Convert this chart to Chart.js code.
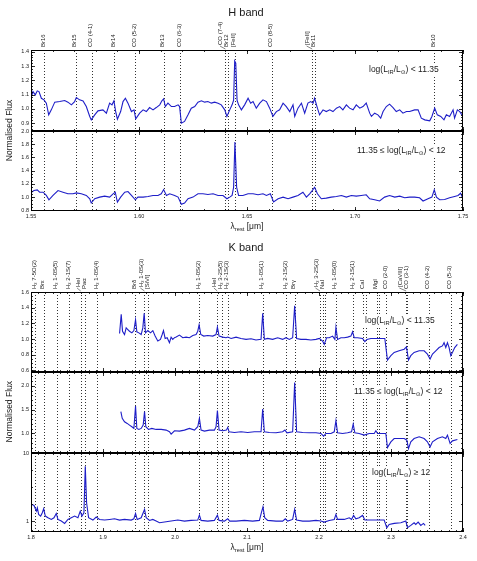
<!DOCTYPE html>
<html>
<head>
<meta charset="utf-8">
<script src="https://cdn.jsdelivr.net/npm/chart.js@4.4.0/dist/chart.umd.min.js"></script>
<style>
body{margin:0;background:#fff;}
#wrap{position:relative;width:477px;height:561px;}
canvas{position:absolute;left:0;top:0;}
</style>
</head>
<body>
<div id="wrap">
<canvas id="h1" width="477" height="561"></canvas>
<canvas id="h2" width="477" height="561"></canvas>
<canvas id="k1" width="477" height="561"></canvas>
<canvas id="k2" width="477" height="561"></canvas>
<canvas id="k3" width="477" height="561"></canvas>
</div>
<script>
// ---- line identifications (micron) ----
var hLineWave = [1.5562,1.5708,1.5781,1.5886,1.5983,1.6114,1.6191,1.6400,1.6412,1.6443,1.6614,1.6802,1.6813,1.7367];
var hLineName = ['Br16','Br15','CO (4-1)','Br14','CO (5-2)','Br13','CO (6-3)','CO (7-4)','Br12','[FeII]','CO (8-5)','[FeII]','Br11','Br10'];

var kLineWave = [1.8060,1.8174,1.8358,1.8528,1.8690,1.8751,1.8920,1.9446,1.9576,1.9630,2.0338,2.0587,2.0656,2.0735,2.1218,2.1542,2.1661,2.2014,2.2062,2.2090,2.2235,2.2477,2.2618,2.2650,2.2799,2.2831,2.2935,2.3211,2.3227,2.3525,2.3830];
var kLineName = ['H\u2082 7-5O(2)','Br\u03b5','H\u2082 1-0S(5)','H\u2082 2-1S(7)','HeI','Pa\u03b1','H\u2082 1-0S(4)','Br\u03b4','H\u2082 1-0S(3)','[SiVI]','H\u2082 1-0S(2)','HeI','H\u2082 3-2S(5)','H\u2082 2-1S(3)','H\u2082 1-0S(1)','H\u2082 2-1S(2)','Br\u03b3','H\u2082 3-2S(3)','NaI','','H\u2082 1-0S(0)','H\u2082 2-1S(1)','CaI','','MgI','','CO (2-0)','[CaVIII]','CO (3-1)','CO (4-2)','CO (5-3)'];

// ---- axis ticks ----
var hTicks = [1.55,1.60,1.65,1.70,1.75];
var hTickLabels = ['1.55','1.60','1.65','1.70','1.75'];
var kTicks = [1.8,1.9,2.0,2.1,2.2,2.3,2.4];
var kTickLabels = ['1.8','1.9','2.0','2.1','2.2','2.3','2.4'];

// ---- H band, log(LIR/Lsun) < 11.35 ----
var hLowWave = [1.5502,1.5509,1.5520,1.5529,1.5537,1.5548,1.5560,1.5571,1.5582,1.5594,
1.5610,1.5633,1.5656,1.5671,1.5687,1.5702,1.5710,1.5725,1.5741,1.5756,
1.5772,1.5779,1.5795,1.5810,1.5833,1.5849,1.5864,1.5875,1.5884,1.5892,
1.5900,1.5915,1.5926,1.5937,1.5949,1.5965,1.5977,1.5985,1.6003,1.6019,
1.6034,1.6049,1.6065,1.6080,1.6096,1.6106,1.6114,1.6122,1.6134,1.6150,
1.6165,1.6181,1.6188,1.6196,1.6211,1.6227,1.6242,1.6258,1.6273,1.6289,
1.6304,1.6319,1.6335,1.6350,1.6366,1.6381,1.6397,1.6407,1.6420,1.6431,
1.6438,1.6443,1.6448,1.6454,1.6461,1.6474,1.6489,1.6505,1.6517,1.6528,
1.6543,1.6559,1.6574,1.6590,1.6605,1.6620,1.6636,1.6651,1.6667,1.6682,
1.6698,1.6713,1.6721,1.6736,1.6752,1.6767,1.6782,1.6795,1.6806,1.6813,
1.6826,1.6836,1.6852,1.6867,1.6883,1.6898,1.6914,1.6929,1.6944,1.6960,
1.6975,1.6991,1.7006,1.7022,1.7037,1.7052,1.7068,1.7076,1.7091,1.7106,
1.7119,1.7130,1.7145,1.7160,1.7176,1.7191,1.7207,1.7222,1.7238,1.7253,
1.7276,1.7292,1.7307,1.7323,1.7346,1.7356,1.7369,1.7381,1.7397,1.7412,
1.7423,1.7438,1.7454,1.7461,1.7474,1.7485,1.7500];
var hLowFlux = [1.086,1.121,1.098,1.126,1.121,1.074,1.063,1.040,0.958,0.993,
1.047,1.051,1.058,1.047,1.028,1.051,1.079,1.063,1.056,1.016,
0.947,0.923,0.958,0.986,0.993,0.970,1.040,1.028,1.056,0.981,
0.928,0.981,1.051,1.074,1.040,0.981,0.993,0.930,0.970,0.993,
0.981,1.009,0.993,1.009,1.028,1.056,1.070,1.016,1.040,1.016,
1.016,1.028,1.016,0.900,0.912,0.958,1.005,1.016,1.047,1.056,
1.047,1.051,1.040,1.047,1.040,1.028,0.993,0.947,0.993,1.028,
1.060,1.335,1.320,1.060,1.028,0.993,1.028,1.074,1.040,1.051,
1.005,1.040,1.063,1.051,1.005,0.947,0.981,0.993,1.040,1.016,
0.981,1.028,0.947,1.005,1.040,0.970,1.040,1.051,1.040,1.074,
1.005,0.958,0.993,0.981,0.993,0.981,1.005,1.016,0.993,1.028,
1.005,0.993,1.028,1.005,1.016,1.040,0.970,0.947,0.970,0.958,
0.935,0.981,1.016,1.033,1.009,0.981,0.993,0.970,0.981,0.981,
0.993,0.993,0.935,0.923,0.916,0.947,1.005,0.958,0.947,0.923,
0.958,0.947,0.993,0.935,0.993,0.981,0.947];

// ---- H band, 11.35 <= log(LIR/Lsun) < 12 ----
var hMidWave = [1.5502,1.5514,1.5529,1.5540,1.5556,1.5571,1.5583,1.5602,1.5625,1.5648,
1.5671,1.5694,1.5710,1.5733,1.5756,1.5772,1.5779,1.5795,1.5818,1.5841,
1.5864,1.5880,1.5890,1.5900,1.5915,1.5934,1.5949,1.5965,1.5983,1.5995,
1.6019,1.6042,1.6065,1.6088,1.6103,1.6114,1.6127,1.6142,1.6165,1.6181,
1.6196,1.6211,1.6227,1.6250,1.6273,1.6296,1.6319,1.6343,1.6366,1.6389,
1.6407,1.6420,1.6431,1.6438,1.6444,1.6452,1.6461,1.6481,1.6505,1.6528,
1.6551,1.6574,1.6590,1.6608,1.6623,1.6644,1.6667,1.6690,1.6713,1.6736,
1.6759,1.6775,1.6790,1.6802,1.6813,1.6826,1.6844,1.6867,1.6890,1.6914,
1.6937,1.6960,1.6983,1.7006,1.7029,1.7052,1.7068,1.7091,1.7114,1.7137,
1.7160,1.7184,1.7207,1.7230,1.7253,1.7276,1.7299,1.7315,1.7338,1.7356,
1.7367,1.7377,1.7392,1.7415,1.7438,1.7461,1.7477,1.7489,1.7500];
var hMidFlux = [1.074,1.099,1.109,1.074,1.074,1.025,0.960,1.025,1.099,1.074,
1.050,1.050,1.064,1.050,1.025,0.975,0.911,0.975,1.000,1.015,
1.000,1.050,1.074,0.926,1.000,1.074,1.084,1.025,0.960,1.000,
1.000,1.010,1.025,1.025,1.050,1.114,1.025,1.050,1.025,1.000,
0.891,0.911,0.975,1.000,1.050,1.050,1.040,1.050,1.025,1.025,
0.975,1.000,1.025,1.149,1.832,1.149,1.025,1.025,1.050,1.050,
1.035,1.050,1.025,1.050,0.926,0.975,1.000,0.975,1.000,1.025,
1.074,1.000,1.050,1.099,1.149,1.050,0.975,0.985,1.000,1.010,
1.025,1.000,1.025,1.015,1.025,1.035,0.975,0.960,0.941,1.000,
1.025,1.000,1.015,0.990,1.000,1.000,0.990,0.941,0.975,1.000,
1.109,1.000,0.960,0.965,0.990,1.010,1.025,1.059,0.975];

// ---- K band, log(LIR/Lsun) < 11.35 ----
var kLowWave = [1.9230,1.9253,1.9271,1.9299,1.9322,1.9345,1.9368,1.9401,1.9429,1.9452,
1.9470,1.9498,1.9530,1.9553,1.9572,1.9590,1.9623,1.9660,1.9692,1.9724,
1.9761,1.9798,1.9822,1.9840,1.9863,1.9891,1.9923,1.9946,1.9969,1.9993,
2.0016,2.0062,2.0108,2.0154,2.0201,2.0247,2.0293,2.0316,2.0335,2.0358,
2.0399,2.0455,2.0524,2.0570,2.0589,2.0612,2.0663,2.0709,2.0732,2.0779,
2.0848,2.0917,2.0987,2.1056,2.1125,2.1195,2.1218,2.1241,2.1287,2.1356,
2.1426,2.1495,2.1541,2.1588,2.1634,2.1662,2.1689,2.1749,2.1819,2.1888,
2.1958,2.2004,2.2050,2.2073,2.2105,2.2142,2.2189,2.2221,2.2235,2.2258,
2.2304,2.2350,2.2397,2.2443,2.2466,2.2489,2.2535,2.2605,2.2637,2.2665,
2.2720,2.2790,2.2859,2.2914,2.2951,2.2998,2.3044,2.3113,2.3183,2.3215,
2.3243,2.3275,2.3321,2.3391,2.3460,2.3506,2.3543,2.3576,2.3622,2.3668,
2.3714,2.3737,2.3761,2.3784,2.3807,2.3830,2.3853,2.3885,2.3922];
var kLowFlux = [1.071,1.317,1.100,1.058,1.142,1.121,1.100,1.079,1.108,1.246,
1.092,1.079,1.058,1.142,1.329,1.079,1.108,1.079,1.108,1.038,
0.975,0.996,1.058,1.108,1.008,1.017,0.954,1.025,0.996,1.017,
1.025,1.050,1.017,1.025,1.017,1.046,1.058,1.100,1.183,1.058,
1.038,1.046,1.038,1.058,1.154,1.038,1.025,1.017,1.025,1.008,
1.025,1.008,0.996,1.004,0.988,0.996,1.329,0.996,1.008,0.996,
1.017,0.996,1.017,0.996,1.017,1.425,1.008,0.996,0.996,0.988,
0.996,1.008,0.975,0.933,1.017,1.017,1.038,0.996,1.150,0.996,
1.017,1.017,1.025,1.038,1.092,1.017,1.017,1.008,0.967,0.996,
1.008,1.008,1.008,1.008,0.733,0.788,0.829,0.850,0.871,0.900,
0.733,0.788,0.829,0.850,0.850,0.808,0.746,0.808,0.850,0.892,
0.913,0.954,0.892,0.954,0.892,0.788,0.829,0.892,0.933];

// ---- K band, 11.35 <= log(LIR/Lsun) < 12 ----
var kMidWave = [1.9248,1.9267,1.9299,1.9336,1.9368,1.9401,1.9429,1.9452,1.9470,1.9498,
1.9530,1.9558,1.9577,1.9595,1.9632,1.9678,1.9738,1.9808,1.9877,1.9923,
1.9946,1.9993,2.0062,2.0131,2.0201,2.0270,2.0316,2.0339,2.0362,2.0409,
2.0478,2.0547,2.0570,2.0589,2.0612,2.0663,2.0714,2.0732,2.0751,2.0825,
2.0917,2.1010,2.1102,2.1195,2.1218,2.1241,2.1310,2.1403,2.1495,2.1527,
2.1555,2.1634,2.1662,2.1689,2.1773,2.1865,2.1958,2.2027,2.2064,2.2096,
2.2166,2.2212,2.2235,2.2258,2.2327,2.2397,2.2452,2.2475,2.2498,2.2558,
2.2628,2.2697,2.2767,2.2790,2.2813,2.2882,2.2928,2.2951,2.2998,2.3044,
2.3113,2.3183,2.3220,2.3243,2.3275,2.3321,2.3391,2.3460,2.3506,2.3543,
2.3576,2.3645,2.3714,2.3761,2.3784,2.3821,2.3853,2.3922];
var kMidFlux = [1.458,1.317,1.246,1.211,1.176,1.141,1.106,1.577,1.106,1.085,
1.106,1.176,1.458,1.141,1.085,1.106,1.085,1.085,1.070,1.035,
0.986,1.056,1.049,1.070,1.106,1.070,1.141,1.317,1.070,1.049,
1.070,1.070,1.141,1.479,1.070,1.056,1.070,1.127,1.035,1.021,
1.035,1.021,1.035,1.035,1.514,1.035,1.021,1.014,1.035,1.070,
1.014,1.035,2.070,1.035,1.021,1.014,1.014,1.000,0.944,1.000,
1.000,1.035,1.268,1.014,1.000,1.014,1.035,1.197,1.014,1.000,
0.965,1.000,1.000,1.056,1.000,1.000,1.000,0.704,0.824,0.894,
0.894,0.894,0.859,0.683,0.824,0.894,0.930,0.894,0.824,0.718,
0.824,0.894,0.930,0.894,0.965,0.789,0.845,0.873];

// ---- K band, log(LIR/Lsun) >= 12 ----
var kHighWave = [1.8014,1.8042,1.8074,1.8088,1.8106,1.8134,1.8157,1.8176,1.8199,1.8236,
1.8282,1.8319,1.8351,1.8374,1.8421,1.8467,1.8513,1.8559,1.8606,1.8652,
1.8684,1.8707,1.8735,1.8754,1.8772,1.8800,1.8860,1.8906,1.8952,1.9022,
1.9091,1.9160,1.9230,1.9299,1.9392,1.9429,1.9452,1.9475,1.9530,1.9577,
1.9600,1.9646,1.9692,1.9738,1.9785,1.9854,1.9946,2.0039,2.0131,2.0224,
2.0316,2.0339,2.0362,2.0455,2.0547,2.0589,2.0612,2.0686,2.0732,2.0760,
2.0848,2.0963,2.1079,2.1172,2.1199,2.1222,2.1246,2.1287,2.1403,2.1495,
2.1532,2.1565,2.1634,2.1662,2.1689,2.1773,2.1865,2.1958,2.2027,2.2073,
2.2142,2.2212,2.2235,2.2258,2.2350,2.2420,2.2452,2.2480,2.2512,2.2558,
2.2605,2.2637,2.2720,2.2813,2.2905,2.2942,2.2974,2.3044,2.3136,2.3206,
2.3229,2.3275,2.3321,2.3344,2.3377,2.3414,2.3451,2.3474];
var kHighFlux = [1.769,1.710,1.414,1.581,1.264,1.196,1.337,1.529,1.196,1.131,
1.069,1.131,1.308,1.069,1.011,0.935,1.069,1.131,1.196,1.131,
1.414,1.196,1.337,6.390,1.870,1.131,1.046,1.157,1.069,1.046,
1.069,1.093,1.046,1.069,1.046,1.093,1.308,1.069,1.131,1.495,
1.131,1.034,1.069,1.011,0.956,0.978,1.011,1.046,1.011,1.034,
1.046,1.236,1.034,1.011,1.034,1.236,1.034,1.011,1.093,1.011,
1.011,1.034,1.011,1.034,1.337,1.635,1.131,1.034,1.011,1.011,
1.093,1.011,1.069,1.495,1.046,1.011,1.011,1.034,1.011,0.978,
1.034,1.069,1.264,1.069,1.069,1.131,1.069,1.223,1.093,1.131,
1.223,1.046,1.046,1.046,1.046,0.809,0.904,0.935,0.956,1.011,
0.809,0.874,0.956,0.904,0.978,0.874,0.935,0.874];

var FONT = '"Liberation Sans", Arial, Helvetica, "DejaVu Sans", sans-serif';
var INK = '#1a1a1a';

// draws text made of [string, isSubscript] parts; returns its width
function richText(ctx, parts, x, y, size, measureOnly){
  var cx = x;
  parts.forEach(function(p){
    var s = p[1] ? size*0.68 : size;
    ctx.font = s + 'px ' + FONT;
    if (!measureOnly) ctx.fillText(p[0], cx, y + (p[1] ? size*0.28 : 0));
    cx += ctx.measureText(p[0]).width;
  });
  return cx - x;
}

function steps(a, b, st){
  var out = [];
  var n = Math.round((b - a) / st);
  for (var i = 0; i <= n; i++) out.push(a + i*st);
  return out;
}

function decorPlugin(p){
  return {
    id: 'decor_' + p.id,
    beforeDatasetsDraw: function(chart){
      var ctx = chart.ctx, a = chart.chartArea, xs = chart.scales.x;
      ctx.save();
      ctx.strokeStyle = '#333';
      ctx.lineWidth = 1;
      ctx.setLineDash([1, 2]);
      p.lines.forEach(function(w){
        var x = Math.round(xs.getPixelForValue(w)) + 0.5;
        ctx.beginPath(); ctx.moveTo(x, a.top); ctx.lineTo(x, a.bottom); ctx.stroke();
      });
      ctx.setLineDash([]);
      // label box behind the annotation hides the dotted lines
      ctx.textBaseline = 'middle';
      var w = richText(ctx, p.note, 0, 0, 8.5, true);
      ctx.fillStyle = '#fff';
      ctx.fillRect(p.noteX - 2, p.noteY - 6, w + 4, 13);
      ctx.restore();
    },
    afterDraw: function(chart){
      var ctx = chart.ctx, a = chart.chartArea, xs = chart.scales.x, ys = chart.scales.y;
      ctx.save();
      ctx.strokeStyle = '#000';
      ctx.lineWidth = 1;
      ctx.strokeRect(a.left + 0.5, a.top + 0.5, a.right - a.left - 1, a.bottom - a.top - 1);

      // inward ticks on all sides
      function tx(v, len){
        var x = Math.round(xs.getPixelForValue(v)) + 0.5;
        ctx.beginPath();
        ctx.moveTo(x, a.bottom); ctx.lineTo(x, a.bottom - len);
        ctx.moveTo(x, a.top); ctx.lineTo(x, a.top + len);
        ctx.stroke();
      }
      function ty(v, len){
        var y = Math.round(ys.getPixelForValue(v)) + 0.5;
        ctx.beginPath();
        ctx.moveTo(a.left, y); ctx.lineTo(a.left + len, y);
        ctx.moveTo(a.right, y); ctx.lineTo(a.right - len, y);
        ctx.stroke();
      }
      ctx.lineWidth = 0.8;
      steps(xs.min, xs.max, p.xMinor).forEach(function(v){ tx(v, 2); });
      p.xTicks.forEach(function(v){ tx(v, 4); });
      p.yMinor.forEach(function(v){ if (v >= ys.min && v <= ys.max) ty(v, 2); });
      p.yTicks.forEach(function(v){ ty(v, 4); });

      ctx.fillStyle = INK;
      ctx.font = '5.5px ' + FONT;
      ctx.textAlign = 'right';
      ctx.textBaseline = 'middle';
      p.yTicks.forEach(function(v, i){
        ctx.fillText(p.yTickLabels[i], a.left - 2, ys.getPixelForValue(v));
      });

      if (p.xLabels){
        ctx.textAlign = 'center';
        ctx.textBaseline = 'top';
        p.xTicks.forEach(function(v, i){
          ctx.fillText(p.xTickLabels[i], xs.getPixelForValue(v), a.bottom + 3);
        });
        ctx.textAlign = 'left';
        ctx.textBaseline = 'middle';
        var parts = [['\u03bb', false], ['rest', true], [' [\u03bcm]', false]];
        var w = richText(ctx, parts, 0, 0, 8.5, true);
        richText(ctx, parts, (a.left + a.right)/2 - w/2, a.bottom + 16, 8.5);
      }

      // annotation
      ctx.textAlign = 'left';
      ctx.textBaseline = 'middle';
      richText(ctx, p.note, p.noteX, p.noteY, 8.5);

      if (p.names){
        // band title and y title
        ctx.textAlign = 'center';
        ctx.font = '11px ' + FONT;
        ctx.fillText(p.title, 246, a.top - p.titleGap);
        ctx.save();
        ctx.translate(10, p.yTitleY);
        ctx.rotate(-Math.PI/2);
        ctx.font = '8.5px ' + FONT;
        ctx.fillText('Normalised Flux', 0, 0);
        ctx.restore();

        // line labels above the top panel
        var lx = p.lines.map(function(w){ return xs.getPixelForValue(w); });
        var tx2 = lx.slice();
        var next = null;
        for (var i = lx.length - 1; i >= 0; i--){
          if (!p.names[i]) continue;
          if (next !== null && tx2[next] - tx2[i] < 6) tx2[i] = tx2[next] - 6;
          next = i;
        }
        ctx.font = '6px ' + FONT;
        ctx.textAlign = 'left';
        ctx.textBaseline = 'alphabetic';
        ctx.lineWidth = 0.6;
        ctx.strokeStyle = '#333';
        for (var j = 0; j < lx.length; j++){
          if (!p.names[j]) continue;
          var base = a.top - 3;
          if (lx[j] - tx2[j] > 1){
            ctx.beginPath();
            ctx.moveTo(lx[j], a.top - 1);
            ctx.lineTo(tx2[j] - 2, base - 1);
            ctx.stroke();
            base -= 2;
          }
          ctx.save();
          ctx.translate(tx2[j] + 0.5, base);
          ctx.rotate(-Math.PI/2);
          ctx.fillText(p.names[j], 0, 0);
          ctx.restore();
        }
      }
      ctx.restore();
    }
  };
}

var noteLow = [['log(L', false], ['IR', true], ['/L', false], ['\u2299', true], [') < 11.35', false]];
var noteMid = [['11.35 \u2264 log(L', false], ['IR', true], ['/L', false], ['\u2299', true], [') < 12', false]];
var noteHigh = [['log(L', false], ['IR', true], ['/L', false], ['\u2299', true], [') \u2265 12', false]];

var panels = [
  {id:'h1', top:50, bottom:131, xmin:1.55, xmax:1.75, ymin:0.845, ymax:1.412, log:false,
   wave:hLowWave, flux:hLowFlux, lines:hLineWave, names:hLineName, title:'H band', titleGap:37, yTitleY:130.5,
   xTicks:hTicks, xTickLabels:hTickLabels, xMinor:0.01, xLabels:false,
   yTicks:[0.9,1.0,1.1,1.2,1.3,1.4], yTickLabels:['0.9','1.0','1.1','1.2','1.3','1.4'], yMinor:steps(0.86,1.40,0.02),
   note:noteLow, noteX:369, noteY:70},
  {id:'h2', top:131, bottom:211, xmin:1.55, xmax:1.75, ymin:0.79, ymax:2.0, log:false,
   wave:hMidWave, flux:hMidFlux, lines:hLineWave, names:null,
   xTicks:hTicks, xTickLabels:hTickLabels, xMinor:0.01, xLabels:true,
   yTicks:[0.8,1.0,1.2,1.4,1.6,1.8,2.0], yTickLabels:['0.8','1.0','1.2','1.4','1.6','1.8','2.0'], yMinor:steps(0.8,2.0,0.05),
   note:noteMid, noteX:357, noteY:151},
  {id:'k1', top:292, bottom:372, xmin:1.8, xmax:2.4, ymin:0.58, ymax:1.6, log:false,
   wave:kLowWave, flux:kLowFlux, lines:kLineWave, names:kLineName, title:'K band', titleGap:44, yTitleY:411.7,
   xTicks:kTicks, xTickLabels:kTickLabels, xMinor:0.01, xLabels:false,
   yTicks:[0.6,0.8,1.0,1.2,1.4,1.6], yTickLabels:['0.6','0.8','1.0','1.2','1.4','1.6'], yMinor:steps(0.6,1.6,0.05),
   note:noteLow, noteX:365, noteY:321},
  {id:'k2', top:372, bottom:453, xmin:1.8, xmax:2.4, ymin:0.59, ymax:2.29, log:false,
   wave:kMidWave, flux:kMidFlux, lines:kLineWave, names:null,
   xTicks:kTicks, xTickLabels:kTickLabels, xMinor:0.01, xLabels:false,
   yTicks:[1.0,1.5,2.0], yTickLabels:['1.0','1.5','2.0'], yMinor:steps(0.6,2.2,0.1),
   note:noteMid, noteX:354, noteY:392},
  {id:'k3', top:453, bottom:532, xmin:1.8, xmax:2.4, ymin:0.72, ymax:10, log:true,
   wave:kHighWave, flux:kHighFlux, lines:kLineWave, names:null,
   xTicks:kTicks, xTickLabels:kTickLabels, xMinor:0.01, xLabels:true,
   yTicks:[1,10], yTickLabels:['1','10'], yMinor:[0.75,1.778,3.162,5.623],
   note:noteHigh, noteX:372, noteY:473}
];

panels.forEach(function(p){
  var pts = [];
  for (var i = 0; i < Math.min(p.wave.length, p.flux.length); i++) pts.push({x: p.wave[i], y: p.flux[i]});
  new Chart(document.getElementById(p.id), {
    type: 'line',
    data: {datasets: [{data: pts, borderColor: '#1e1ec8', borderWidth: 1.1, pointRadius: 0, tension: 0, fill: false}]},
    options: {
      responsive: false,
      animation: false,
      events: [],
      devicePixelRatio: 1,
      layout: {padding: {left: 31, right: 14, top: p.top, bottom: 561 - p.bottom}},
      plugins: {legend: {display: false}, tooltip: {enabled: false}},
      scales: {
        x: {type: 'linear', min: p.xmin, max: p.xmax, display: false},
        y: {type: p.log ? 'logarithmic' : 'linear', min: p.ymin, max: p.ymax, display: false}
      }
    },
    plugins: [decorPlugin(p)]
  });
});
</script>
</body>
</html>
